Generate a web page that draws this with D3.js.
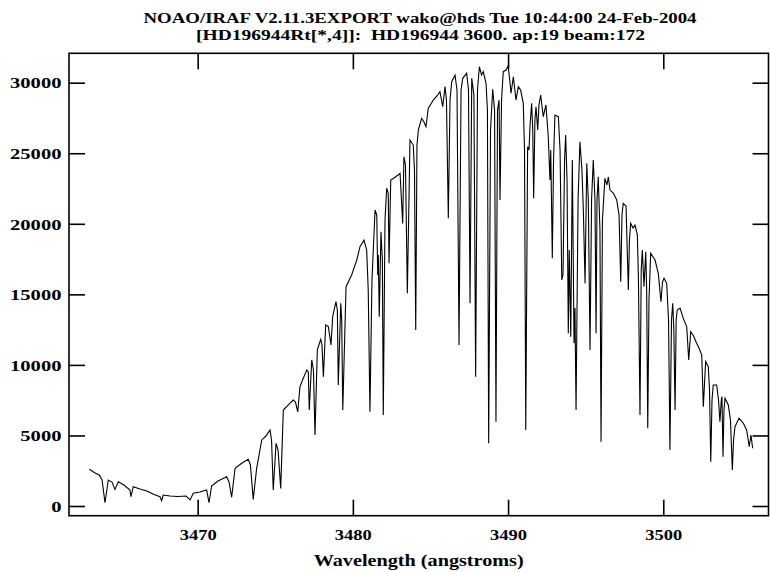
<!DOCTYPE html>
<html>
<head>
<meta charset="utf-8">
<script src="https://cdn.jsdelivr.net/npm/d3@7"></script>
<style>
  html, body { margin: 0; padding: 0; background: #fff; }
  svg { display: block; }
  text { font-family: "Liberation Serif", "DejaVu Serif", serif; font-weight: bold; fill: #000; white-space: pre; }
</style>
</head>
<body>
<svg id="chart" width="770" height="572"></svg>
<script>
const titleLines = [
  "NOAO/IRAF V2.11.3EXPORT wako@hds Tue 10:44:00 24-Feb-2004",
  "[HD196944Rt[*,4]]:  HD196944 3600. ap:19 beam:172"
];
const xLabel = "Wavelength (angstroms)";
const xTicks = [3470, 3480, 3490, 3500];
const yTicks = [0, 5000, 10000, 15000, 20000, 25000, 30000];
const xDomain = [3461.71, 3506.78];
const yDomain = [-687, 32083];

const wavelength = [
3463.02,3463.39,3463.66,3463.84,3464.03,3464.24,3464.48,3464.67,3464.89,3465.25,
3465.64,3465.70,3465.85,3466.28,3466.73,3467.12,3467.57,3467.68,3467.78,3468.22,
3468.73,3469.25,3469.51,3469.72,3470.15,3470.58,3470.73,3470.90,3471.31,3471.87,
3472.02,3472.19,3472.41,3472.86,3473.26,3473.40,3473.58,3473.80,3474.13,3474.40,
3474.66,3474.76,3474.87,3475.05,3475.18,3475.35,3475.52,3475.84,3476.16,3476.30,
3476.45,3476.59,3476.81,3477.03,3477.13,3477.19,3477.35,3477.46,3477.56,3477.71,
3477.93,3478.01,3478.10,3478.25,3478.42,3478.59,3478.70,3478.91,3479.00,3479.06,
3479.22,3479.28,3479.35,3479.56,3479.92,3480.25,3480.46,3480.72,3480.89,3480.99,
3481.10,3481.23,3481.43,3481.54,3481.60,3481.64,3481.70,3481.81,3481.90,3481.96,
3482.07,3482.18,3482.28,3482.33,3482.44,3482.65,3482.91,3483.04,3483.21,3483.29,
3483.39,3483.51,3483.68,3483.89,3483.97,3484.05,3484.13,3484.22,3484.43,3484.58,
3484.71,3484.86,3485.03,3485.18,3485.42,3485.61,3485.79,3485.94,3486.03,3486.15,
3486.26,3486.37,3486.58,3486.71,3486.84,3486.97,3487.08,3487.33,3487.45,3487.55,
3487.66,3487.80,3487.91,3488.03,3488.15,3488.29,3488.40,3488.58,3488.67,3488.75,
3488.87,3489.01,3489.13,3489.22,3489.32,3489.42,3489.48,3489.58,3489.69,3489.87,
3490.00,3490.12,3490.19,3490.34,3490.51,3490.66,3490.81,3490.98,3491.06,3491.14,
3491.26,3491.35,3491.41,3491.52,3491.59,3491.65,3491.73,3491.80,3491.91,3491.99,
3492.10,3492.27,3492.44,3492.59,3492.70,3492.75,3492.85,3492.93,3493.02,3493.24,
3493.35,3493.46,3493.54,3493.64,3493.71,3493.80,3493.88,3493.94,3494.04,3494.14,
3494.25,3494.31,3494.38,3494.51,3494.63,3494.76,3494.85,3494.96,3495.07,3495.17,
3495.28,3495.38,3495.49,3495.60,3495.67,3495.73,3495.81,3495.92,3495.99,3496.08,
3496.24,3496.37,3496.46,3496.57,3496.78,3497.00,3497.15,3497.26,3497.34,3497.42,
3497.60,3497.75,3497.82,3497.90,3498.05,3498.18,3498.33,3498.40,3498.50,3498.58,
3498.65,3498.76,3498.87,3498.93,3499.00,3499.08,3499.19,3499.47,3499.68,3499.85,
3499.95,3500.05,3500.22,3500.34,3500.43,3500.53,3500.61,3500.68,3500.76,3500.83,
3500.90,3501.08,3501.29,3501.51,3501.64,3501.77,3501.95,3502.15,3502.30,3502.48,
3502.58,3502.73,3502.90,3502.98,3503.06,3503.14,3503.22,3503.44,3503.56,3503.65,
3503.74,3503.78,3503.85,3503.91,3503.98,3504.19,3504.33,3504.45,3504.53,3504.62,
3504.88,3505.16,3505.37,3505.54,3505.65,3505.76
];
const flux = [
2600,2340,2200,1840,230,1840,1700,1180,1720,1490,
1130,660,1370,1200,1060,850,660,380,780,710,
670,710,430,900,990,1130,230,1420,1770,2080,
1700,620,2670,3050,3310,2910,470,2670,4680,4960,
5390,4680,1130,4440,3970,1250,6800,7160,7510,7370,
6680,8450,9070,9640,9500,6800,10350,9640,5030,11060,
11810,11410,9160,12830,12710,11410,13420,14480,13890,8580,
14370,13180,6800,15540,16370,17430,18380,18850,18140,15310,
6680,16020,20980,20620,16370,17790,13420,19440,17430,6450,
20270,22520,22160,17200,23100,23250,23460,23580,20030,24750,
24170,15070,25940,25580,23810,12470,25580,26650,27480,27210,
26880,28190,28490,28770,29060,29360,28300,29720,28770,20390,
28770,30070,30540,29480,11410,29480,30310,30670,29480,14370,
30310,29130,9160,29480,31130,30540,30780,29960,28060,4440,
26650,29530,28060,5970,28060,28770,21690,28770,30780,30900,
31180,30070,29250,30420,28770,29720,29480,28540,25230,5390,
25460,25230,26880,28540,26650,21810,27360,28300,26650,28420,
29130,27590,28420,26170,23100,25230,17550,24520,27710,27590,
25230,16020,16370,24520,26290,23100,12240,18140,12000,24520,
11530,14030,6800,21690,25820,23810,20980,15780,24290,21690,
11060,21690,24520,21690,12240,21690,23340,19560,4560,20270,
23220,22750,23320,22390,22180,21690,20620,15900,20620,21450,
21260,15310,18850,20030,19700,19910,19210,16020,6450,16730,
18140,15540,18020,15310,5510,14600,17910,17430,16490,14480,
15880,16140,15780,13180,3970,13180,14370,12470,6800,13180,
13890,14030,13300,12710,10350,12350,12050,11530,11200,10700,
7040,10230,9870,8220,3140,7510,8580,8580,7510,5970,
7510,7750,3490,6800,7630,7160,6090,2550,4680,5620,
6220,5860,5390,4200,5030,4090
];

const svg = d3.select("#chart");
const x = d3.scaleLinear().domain(xDomain).range([69, 768.5]);
const y = d3.scaleLinear().domain(yDomain).range([515.7, 53.3]);

// titles
svg.append("text").attr("x", 420).attr("y", 23).attr("text-anchor", "middle")
  .attr("font-size", 15).attr("textLength", 553).attr("lengthAdjust", "spacingAndGlyphs")
  .text(titleLines[0]);
svg.append("text").attr("x", 420.5).attr("y", 40).attr("text-anchor", "middle")
  .attr("font-size", 15).attr("textLength", 449).attr("lengthAdjust", "spacingAndGlyphs")
  .text(titleLines[1]);

// clip
svg.append("defs").append("clipPath").attr("id", "clip")
  .append("rect").attr("x", 69).attr("y", 53.3).attr("width", 699.5).attr("height", 462.4);

// spectrum
const pts = wavelength.map((w, i) => [w, flux[i]]);
const line = d3.line().x(d => x(d[0])).y(d => y(d[1]));
svg.append("path").datum(pts)
  .attr("clip-path", "url(#clip)")
  .attr("fill", "none").attr("stroke", "#000").attr("stroke-width", 1.1)
  .attr("stroke-linejoin", "miter")
  .attr("d", line);

// axes
const tickLen = 16;
const gBottom = svg.append("g").attr("transform", `translate(0,${y.range()[0]})`)
  .call(d3.axisBottom(x).tickValues(xTicks).tickSizeInner(-tickLen).tickSizeOuter(0).tickPadding(tickLen + 9).tickFormat(d3.format("d")));
const gTop = svg.append("g").attr("transform", `translate(0,${y.range()[1]})`)
  .call(d3.axisTop(x).tickValues(xTicks).tickSizeInner(-tickLen).tickSizeOuter(0).tickFormat(""));
const gLeft = svg.append("g").attr("transform", `translate(${x.range()[0]},0)`)
  .call(d3.axisLeft(y).tickValues(yTicks).tickSizeInner(-tickLen).tickSizeOuter(0).tickPadding(8).tickFormat(d3.format("d")));
const gRight = svg.append("g").attr("transform", `translate(${x.range()[1]},0)`)
  .call(d3.axisRight(y).tickValues(yTicks).tickSizeInner(-tickLen).tickSizeOuter(0).tickFormat(""));

[gBottom, gTop, gLeft, gRight].forEach(g => {
  g.select(".domain").remove();
  g.selectAll(".tick line").attr("stroke", "#000").attr("stroke-width", 1.6);
  g.selectAll(".tick text").attr("font-family", "Liberation Serif, DejaVu Serif, serif")
    .attr("font-weight", "bold").attr("font-size", 15).attr("fill", "#000");
});
gBottom.selectAll(".tick text").attr("dy", 0).attr("y", 24.3).attr("textLength", 37).attr("lengthAdjust", "spacingAndGlyphs");
gLeft.selectAll(".tick text").attr("x", -7.5).attr("dy", "0.35em")
  .attr("textLength", d => String(d).length * 10.3).attr("lengthAdjust", "spacingAndGlyphs");

// frame
svg.append("rect").attr("x", 69).attr("y", 53.3).attr("width", 699.5).attr("height", 462.4)
  .attr("fill", "none").attr("stroke", "#000").attr("stroke-width", 1.6);

// x label
svg.append("text").attr("x", 418.7).attr("y", 565.5).attr("text-anchor", "middle")
  .attr("font-size", 16).attr("textLength", 210).attr("lengthAdjust", "spacingAndGlyphs")
  .text(xLabel);
</script>
</body>
</html>
